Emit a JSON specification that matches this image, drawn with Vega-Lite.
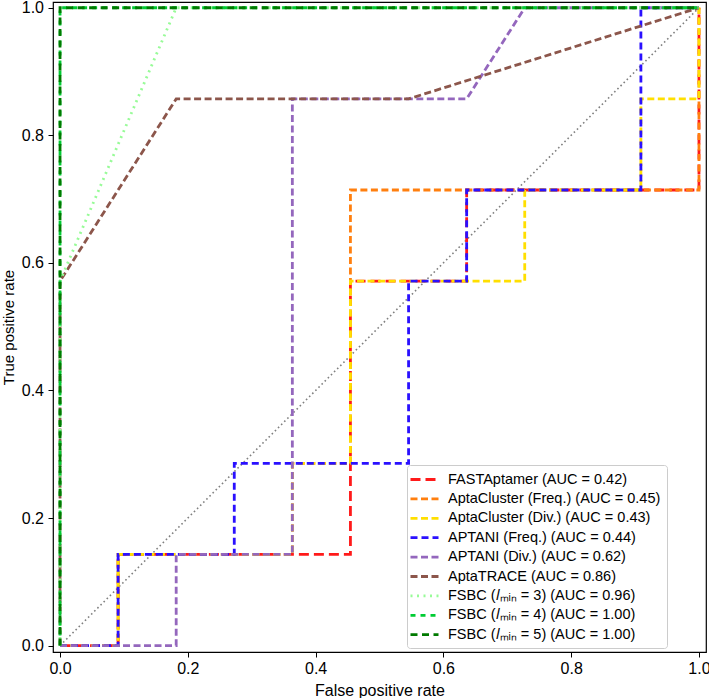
{
  "$schema": "https://vega.github.io/schema/vega-lite/v6.json",
  "width": 653,
  "height": 650,
  "autosize": "none",
  "padding": {"left": 53, "top": 2, "right": 3, "bottom": 46},
  "config": {
    "font": "Liberation Sans",
    "view": {"stroke": "black", "strokeWidth": 1.2},
    "axis": {
      "domain": false, "grid": false, "tickColor": "black", "tickSize": 5, "tickWidth": 1,
      "labelColor": "black", "labelFontSize": 16, "labelPadding": 3,
      "titleColor": "black", "titleFontSize": 16, "titleFontWeight": "normal"
    },
    "legend": {
      "orient": "none", "legendX": 354, "legendY": 463,
      "strokeColor": "#cccccc", "fillColor": "rgba(255,255,255,0.8)", "cornerRadius": 3,
      "padding": 6, "labelFontSize": 14.5, "labelColor": "black", "labelLimit": 400,
      "symbolType": "M-2,0H2", "symbolSize": 196, "symbolStrokeWidth": 2.8, "symbolOffset": 3,
      "labelOffset": 15, "rowPadding": 4.4, "title": null
    }
  },
  "layer": [
    {
      "data": {"values": [{"fpr": 0, "tpr": 0}, {"fpr": 1, "tpr": 1}]},
      "mark": {"type": "line", "color": "gray", "strokeWidth": 1.6, "strokeDash": [1.6, 2.8]},
      "encoding": {
        "x": {"field": "fpr", "type": "quantitative"},
        "y": {"field": "tpr", "type": "quantitative"}
      }
    },
    {
      "data": {"values": [
        {"series": "FASTAptamer (AUC = 0.42)", "i": 0, "fpr": 0, "tpr": 0},
        {"series": "FASTAptamer (AUC = 0.42)", "i": 1, "fpr": 0.0909, "tpr": 0},
        {"series": "FASTAptamer (AUC = 0.42)", "i": 2, "fpr": 0.0909, "tpr": 0.1429},
        {"series": "FASTAptamer (AUC = 0.42)", "i": 3, "fpr": 0.4545, "tpr": 0.1429},
        {"series": "FASTAptamer (AUC = 0.42)", "i": 4, "fpr": 0.4545, "tpr": 0.5714},
        {"series": "FASTAptamer (AUC = 0.42)", "i": 5, "fpr": 0.6364, "tpr": 0.5714},
        {"series": "FASTAptamer (AUC = 0.42)", "i": 6, "fpr": 0.6364, "tpr": 0.7143},
        {"series": "FASTAptamer (AUC = 0.42)", "i": 7, "fpr": 1, "tpr": 0.7143},
        {"series": "FASTAptamer (AUC = 0.42)", "i": 8, "fpr": 1, "tpr": 1},

        {"series": "AptaCluster (Freq.) (AUC = 0.45)", "i": 0, "fpr": 0, "tpr": 0},
        {"series": "AptaCluster (Freq.) (AUC = 0.45)", "i": 1, "fpr": 0.0909, "tpr": 0},
        {"series": "AptaCluster (Freq.) (AUC = 0.45)", "i": 2, "fpr": 0.0909, "tpr": 0.1429},
        {"series": "AptaCluster (Freq.) (AUC = 0.45)", "i": 3, "fpr": 0.3636, "tpr": 0.1429},
        {"series": "AptaCluster (Freq.) (AUC = 0.45)", "i": 4, "fpr": 0.3636, "tpr": 0.2857},
        {"series": "AptaCluster (Freq.) (AUC = 0.45)", "i": 5, "fpr": 0.4545, "tpr": 0.2857},
        {"series": "AptaCluster (Freq.) (AUC = 0.45)", "i": 6, "fpr": 0.4545, "tpr": 0.7143},
        {"series": "AptaCluster (Freq.) (AUC = 0.45)", "i": 7, "fpr": 1, "tpr": 0.7143},
        {"series": "AptaCluster (Freq.) (AUC = 0.45)", "i": 8, "fpr": 1, "tpr": 1},

        {"series": "AptaCluster (Div.) (AUC = 0.43)", "i": 0, "fpr": 0, "tpr": 0},
        {"series": "AptaCluster (Div.) (AUC = 0.43)", "i": 1, "fpr": 0.0909, "tpr": 0},
        {"series": "AptaCluster (Div.) (AUC = 0.43)", "i": 2, "fpr": 0.0909, "tpr": 0.1429},
        {"series": "AptaCluster (Div.) (AUC = 0.43)", "i": 3, "fpr": 0.3636, "tpr": 0.1429},
        {"series": "AptaCluster (Div.) (AUC = 0.43)", "i": 4, "fpr": 0.3636, "tpr": 0.2857},
        {"series": "AptaCluster (Div.) (AUC = 0.43)", "i": 5, "fpr": 0.4545, "tpr": 0.2857},
        {"series": "AptaCluster (Div.) (AUC = 0.43)", "i": 6, "fpr": 0.4545, "tpr": 0.5714},
        {"series": "AptaCluster (Div.) (AUC = 0.43)", "i": 7, "fpr": 0.7273, "tpr": 0.5714},
        {"series": "AptaCluster (Div.) (AUC = 0.43)", "i": 8, "fpr": 0.7273, "tpr": 0.7143},
        {"series": "AptaCluster (Div.) (AUC = 0.43)", "i": 9, "fpr": 0.9091, "tpr": 0.7143},
        {"series": "AptaCluster (Div.) (AUC = 0.43)", "i": 10, "fpr": 0.9091, "tpr": 0.8571},
        {"series": "AptaCluster (Div.) (AUC = 0.43)", "i": 11, "fpr": 1, "tpr": 0.8571},
        {"series": "AptaCluster (Div.) (AUC = 0.43)", "i": 12, "fpr": 1, "tpr": 1},

        {"series": "APTANI (Freq.) (AUC = 0.44)", "i": 0, "fpr": 0, "tpr": 0},
        {"series": "APTANI (Freq.) (AUC = 0.44)", "i": 1, "fpr": 0.0909, "tpr": 0},
        {"series": "APTANI (Freq.) (AUC = 0.44)", "i": 2, "fpr": 0.0909, "tpr": 0.1429},
        {"series": "APTANI (Freq.) (AUC = 0.44)", "i": 3, "fpr": 0.2727, "tpr": 0.1429},
        {"series": "APTANI (Freq.) (AUC = 0.44)", "i": 4, "fpr": 0.2727, "tpr": 0.2857},
        {"series": "APTANI (Freq.) (AUC = 0.44)", "i": 5, "fpr": 0.5455, "tpr": 0.2857},
        {"series": "APTANI (Freq.) (AUC = 0.44)", "i": 6, "fpr": 0.5455, "tpr": 0.5714},
        {"series": "APTANI (Freq.) (AUC = 0.44)", "i": 7, "fpr": 0.6364, "tpr": 0.5714},
        {"series": "APTANI (Freq.) (AUC = 0.44)", "i": 8, "fpr": 0.6364, "tpr": 0.7143},
        {"series": "APTANI (Freq.) (AUC = 0.44)", "i": 9, "fpr": 0.9091, "tpr": 0.7143},
        {"series": "APTANI (Freq.) (AUC = 0.44)", "i": 10, "fpr": 0.9091, "tpr": 1},
        {"series": "APTANI (Freq.) (AUC = 0.44)", "i": 11, "fpr": 1, "tpr": 1},

        {"series": "APTANI (Div.) (AUC = 0.62)", "i": 0, "fpr": 0, "tpr": 0},
        {"series": "APTANI (Div.) (AUC = 0.62)", "i": 1, "fpr": 0.1818, "tpr": 0},
        {"series": "APTANI (Div.) (AUC = 0.62)", "i": 2, "fpr": 0.1818, "tpr": 0.1429},
        {"series": "APTANI (Div.) (AUC = 0.62)", "i": 3, "fpr": 0.3636, "tpr": 0.1429},
        {"series": "APTANI (Div.) (AUC = 0.62)", "i": 4, "fpr": 0.3636, "tpr": 0.8571},
        {"series": "APTANI (Div.) (AUC = 0.62)", "i": 5, "fpr": 0.6364, "tpr": 0.8571},
        {"series": "APTANI (Div.) (AUC = 0.62)", "i": 6, "fpr": 0.7273, "tpr": 1},
        {"series": "APTANI (Div.) (AUC = 0.62)", "i": 7, "fpr": 1, "tpr": 1},

        {"series": "AptaTRACE (AUC = 0.86)", "i": 0, "fpr": 0, "tpr": 0},
        {"series": "AptaTRACE (AUC = 0.86)", "i": 1, "fpr": 0, "tpr": 0.5714},
        {"series": "AptaTRACE (AUC = 0.86)", "i": 2, "fpr": 0.1818, "tpr": 0.8571},
        {"series": "AptaTRACE (AUC = 0.86)", "i": 3, "fpr": 0.5455, "tpr": 0.8571},
        {"series": "AptaTRACE (AUC = 0.86)", "i": 4, "fpr": 1, "tpr": 1},

        {"series": "FSBC (𝑙ₘᵢₙ = 3) (AUC = 0.96)", "i": 0, "fpr": 0, "tpr": 0},
        {"series": "FSBC (𝑙ₘᵢₙ = 3) (AUC = 0.96)", "i": 1, "fpr": 0, "tpr": 0.5714},
        {"series": "FSBC (𝑙ₘᵢₙ = 3) (AUC = 0.96)", "i": 2, "fpr": 0.1818, "tpr": 1},
        {"series": "FSBC (𝑙ₘᵢₙ = 3) (AUC = 0.96)", "i": 3, "fpr": 1, "tpr": 1},

        {"series": "FSBC (𝑙ₘᵢₙ = 4) (AUC = 1.00)", "i": 0, "fpr": 0, "tpr": 0},
        {"series": "FSBC (𝑙ₘᵢₙ = 4) (AUC = 1.00)", "i": 1, "fpr": 0, "tpr": 1},
        {"series": "FSBC (𝑙ₘᵢₙ = 4) (AUC = 1.00)", "i": 2, "fpr": 1, "tpr": 1},

        {"series": "FSBC (𝑙ₘᵢₙ = 5) (AUC = 1.00)", "i": 0, "fpr": 0, "tpr": 0},
        {"series": "FSBC (𝑙ₘᵢₙ = 5) (AUC = 1.00)", "i": 1, "fpr": 0, "tpr": 1},
        {"series": "FSBC (𝑙ₘᵢₙ = 5) (AUC = 1.00)", "i": 2, "fpr": 1, "tpr": 1}
      ]},
      "mark": {"type": "line", "strokeWidth": 2.8, "strokeCap": "butt"},
      "encoding": {
        "x": {"field": "fpr", "type": "quantitative", "title": "False positive rate",
              "scale": {"domain": [-0.011, 1.011], "nice": false, "zero": false},
              "axis": {"values": [0, 0.2, 0.4, 0.6, 0.8, 1.0], "format": ".1f", "titlePadding": 6}},
        "y": {"field": "tpr", "type": "quantitative", "title": "True positive rate",
              "scale": {"domain": [-0.01, 1.009], "nice": false, "zero": false},
              "axis": {"values": [0, 0.2, 0.4, 0.6, 0.8, 1.0], "format": ".1f", "titlePadding": 5, "labelPadding": 4.5, "titleFontSize": 15}},
        "order": {"field": "i", "type": "quantitative"},
        "color": {"field": "series", "type": "nominal",
          "scale": {
            "domain": ["FASTAptamer (AUC = 0.42)", "AptaCluster (Freq.) (AUC = 0.45)", "AptaCluster (Div.) (AUC = 0.43)", "APTANI (Freq.) (AUC = 0.44)", "APTANI (Div.) (AUC = 0.62)", "AptaTRACE (AUC = 0.86)", "FSBC (𝑙ₘᵢₙ = 3) (AUC = 0.96)", "FSBC (𝑙ₘᵢₙ = 4) (AUC = 1.00)", "FSBC (𝑙ₘᵢₙ = 5) (AUC = 1.00)"],
            "range": ["#ff1a1a", "#ff7f0e", "#ffdf00", "#2a10ff", "#9467bd", "#8c564b", "#98fb98", "#00cc33", "#007a00"]
          }
        },
        "strokeDash": {"field": "series", "type": "nominal",
          "scale": {
            "domain": ["FASTAptamer (AUC = 0.42)", "AptaCluster (Freq.) (AUC = 0.45)", "AptaCluster (Div.) (AUC = 0.43)", "APTANI (Freq.) (AUC = 0.44)", "APTANI (Div.) (AUC = 0.62)", "AptaTRACE (AUC = 0.86)", "FSBC (𝑙ₘᵢₙ = 3) (AUC = 0.96)", "FSBC (𝑙ₘᵢₙ = 4) (AUC = 1.00)", "FSBC (𝑙ₘᵢₙ = 5) (AUC = 1.00)"],
            "range": [[10, 5], [7, 3.5], [7, 3.5], [7, 4], [7, 3.5], [7, 3.5], [2, 4.5], [5, 5], [7, 4.5]]
          }
        }
      }
    }
  ]
}
